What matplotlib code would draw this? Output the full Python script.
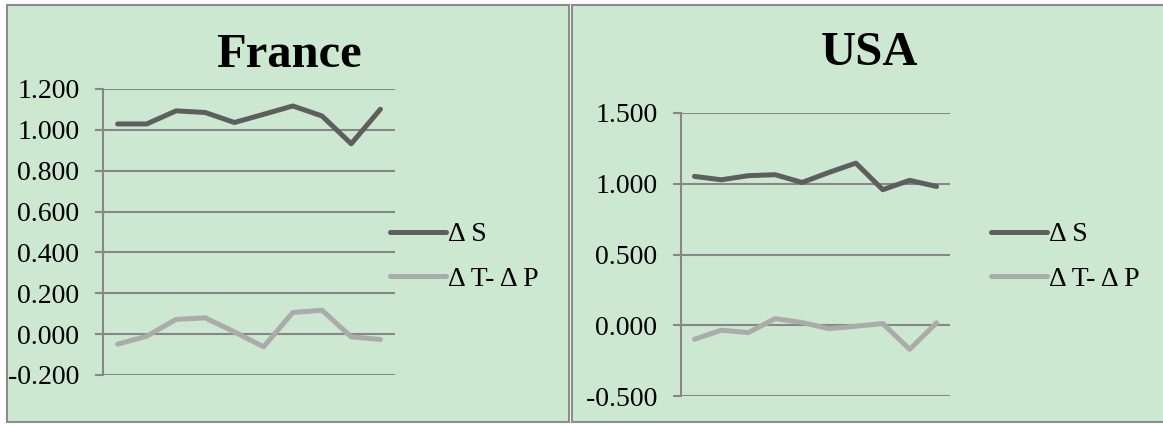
import matplotlib
matplotlib.use("Agg")
import matplotlib.pyplot as plt
from matplotlib.patches import Rectangle

# values, 10 periods each
periods = list(range(1, 11))
france_ds = [1.029, 1.029, 1.093, 1.085, 1.036, 1.076, 1.117, 1.068, 0.932, 1.101]
france_dtp = [-0.049, -0.010, 0.072, 0.080, 0.011, -0.062, 0.106, 0.117, -0.013, -0.026]
usa_ds = [1.052, 1.028, 1.057, 1.064, 1.009, 1.080, 1.146, 0.958, 1.024, 0.981]
usa_dtp = [-0.099, -0.035, -0.052, 0.047, 0.019, -0.024, -0.007, 0.012, -0.170, 0.017]

france_ticks = [-0.2, 0.0, 0.2, 0.4, 0.6, 0.8, 1.0, 1.2]
usa_ticks = [-0.5, 0.0, 0.5, 1.0, 1.5]
series_labels = ['\u0394 S', '\u0394 T- \u0394 P']

W, H = 1163, 424
BG = '#cde8d0'
DARK = '#5e5e5e'
LIGHT = '#ababab'
GRID = '#878787'
SERIF = 'Liberation Serif'

plt.rcParams['font.family'] = SERIF

fig = plt.figure(figsize=(W / 100, H / 100), dpi=100)
fig.patch.set_facecolor('white')


def px_rect(x0, y0, x1, y1):
    # pixel box (top-left origin) -> figure fraction
    return [x0 / W, 1 - y1 / H, (x1 - x0) / W, (y1 - y0) / H]


def panel(x0, x1):
    r = px_rect(x0, 5, x1, 422)
    fig.patches.append(Rectangle((r[0], r[1]), r[2], r[3], transform=fig.transFigure,
                                 facecolor=BG, edgecolor='#8c8c8c', lw=1.5, zorder=-5))


panel(7, 569)
panel(572, 1170)


def draw(box, ds, dtp, ticks, title, title_xy, leg_xy):
    ax = fig.add_axes(px_rect(*box))
    ax.set_facecolor('none')
    x = list(range(len(periods)))
    ax.plot(x, ds, color=DARK, lw=3.6, solid_capstyle='round', solid_joinstyle='round',
            label=series_labels[0])
    ax.plot(x, dtp, color=LIGHT, lw=3.6, solid_capstyle='round', solid_joinstyle='round',
            label=series_labels[1])
    ax.set_xlim(-0.5, len(periods) - 0.5)
    ax.set_ylim(ticks[0], ticks[-1])
    ax.set_yticks(ticks)
    ax.set_yticklabels([f'{t:.3f}' for t in ticks], fontsize=20)
    ax.set_xticks([])
    for t in ticks:
        ax.axhline(t, color=GRID, lw=1.5, zorder=0)
    for s in ['top', 'right', 'bottom']:
        ax.spines[s].set_visible(False)
    ax.spines['left'].set_color(GRID)
    ax.spines['left'].set_linewidth(1.5)
    ax.tick_params(axis='y', length=6, width=1.5, color=GRID, pad=11)
    fig.text(title_xy[0] / W, 1 - title_xy[1] / H, title, ha='center', va='center',
             fontsize=35, fontweight='bold', family=SERIF)
    ax.legend(loc='center left', bbox_to_anchor=(leg_xy[0] / W, 1 - leg_xy[1] / H),
              bbox_transform=fig.transFigure, frameon=False, fontsize=20,
              handlelength=2.0, handletextpad=0.1, labelspacing=0.7, borderpad=0,
              borderaxespad=0)
    return ax


draw((103, 89, 395, 375), france_ds, france_dtp, france_ticks, 'France', (289, 55), (390, 257))
draw((681, 113, 950, 396), usa_ds, usa_dtp, usa_ticks, 'USA', (870, 53), (991, 257))

fig.savefig('out.png', dpi=100, facecolor='white')
